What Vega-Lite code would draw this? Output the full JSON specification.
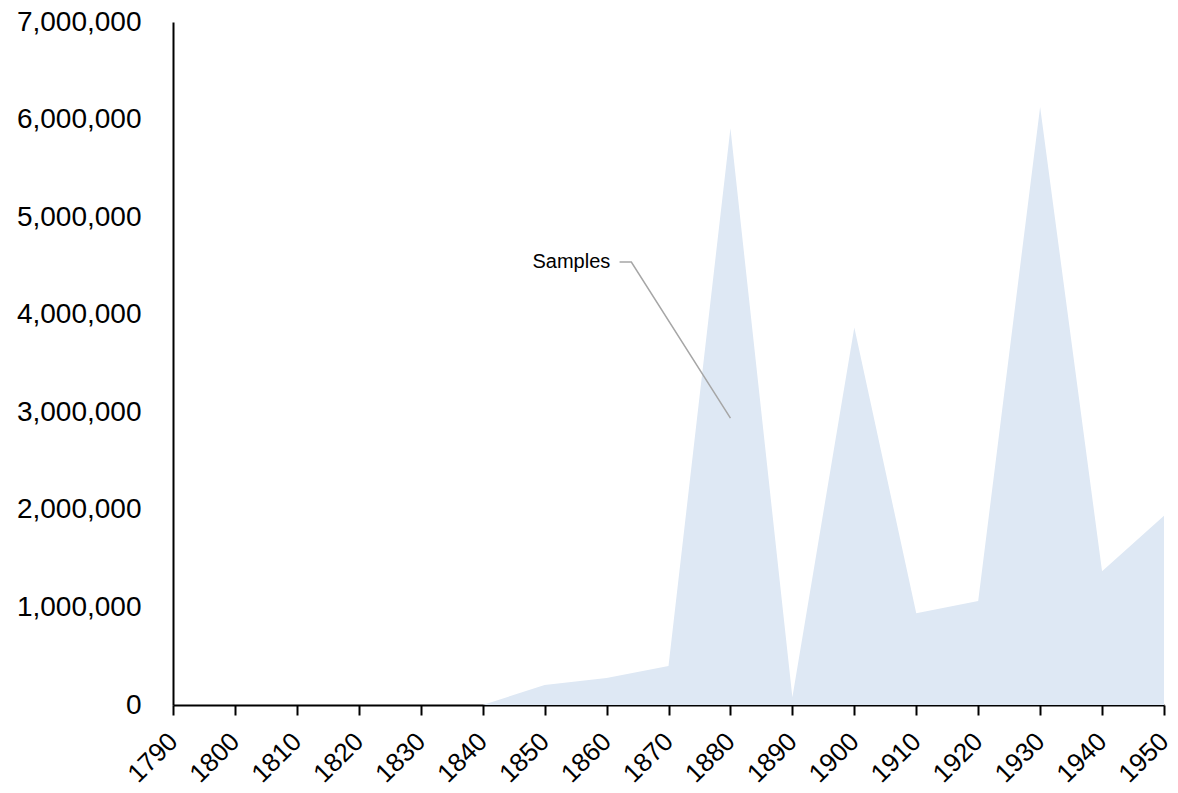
{
  "$schema": "https://vega.github.io/schema/vega-lite/v6.json",
  "autosize": "none",
  "width": 991,
  "height": 683,
  "padding": {"left": 173, "top": 22, "right": 14, "bottom": 88},
  "background": "white",
  "config": {"view": {"stroke": null}, "font": "Liberation Sans"},
  "datasets": {
    "series": [
      {"year": 1790, "value": 0},
      {"year": 1800, "value": 0},
      {"year": 1810, "value": 0},
      {"year": 1820, "value": 0},
      {"year": 1830, "value": 0},
      {"year": 1840, "value": 0},
      {"year": 1850, "value": 205000},
      {"year": 1860, "value": 277000},
      {"year": 1870, "value": 400000},
      {"year": 1880, "value": 5910000},
      {"year": 1890, "value": 80000},
      {"year": 1900, "value": 3870000},
      {"year": 1910, "value": 940000},
      {"year": 1920, "value": 1065000},
      {"year": 1930, "value": 6130000},
      {"year": 1940, "value": 1370000},
      {"year": 1950, "value": 1940000}
    ],
    "leader": [
      {"year": 1862.1, "value": 4540000, "order": 1},
      {"year": 1864.0, "value": 4540000, "order": 2},
      {"year": 1880.0, "value": 2940000, "order": 3}
    ],
    "label": [
      {"year": 1860.6, "value": 4540000, "text": "Samples"}
    ]
  },
  "layer": [
    {
      "data": {"name": "series"},
      "mark": {"type": "area", "color": "#DEE8F4", "interpolate": "linear"},
      "encoding": {
        "x": {
          "field": "year", "type": "quantitative",
          "scale": {"domain": [1790, 1950], "nice": false, "zero": false},
          "axis": {
            "title": null,
            "values": [1790, 1800, 1810, 1820, 1830, 1840, 1850, 1860, 1870, 1880, 1890, 1900, 1910, 1920, 1930, 1940, 1950],
            "format": "d",
            "grid": false,
            "domainColor": "#000000",
            "domainWidth": 2,
            "tickColor": "#000000",
            "tickWidth": 2,
            "tickSize": 10,
            "labelAngle": -45,
            "labelAlign": "right",
            "labelBaseline": "middle",
            "labelFontSize": 26,
            "labelColor": "#000000",
            "labelPadding": 22,
            "labelOverlap": false,
            "labelFlush": false
          }
        },
        "y": {
          "field": "value", "type": "quantitative",
          "scale": {"domain": [0, 7000000], "nice": false},
          "axis": {
            "title": null,
            "values": [0, 1000000, 2000000, 3000000, 4000000, 5000000, 6000000, 7000000],
            "format": ",d",
            "grid": false,
            "ticks": false,
            "domainColor": "#000000",
            "domainWidth": 2,
            "labelFontSize": 28,
            "labelColor": "#000000",
            "labelPadding": 32,
            "labelOverlap": false,
            "labelFlush": false
          }
        }
      }
    },
    {
      "data": {"name": "leader"},
      "mark": {"type": "line", "color": "#A6A6A6", "strokeWidth": 1.5},
      "encoding": {
        "x": {"field": "year", "type": "quantitative"},
        "y": {"field": "value", "type": "quantitative"},
        "order": {"field": "order"}
      }
    },
    {
      "data": {"name": "label"},
      "mark": {"type": "text", "align": "right", "baseline": "middle", "fontSize": 20, "color": "#000000"},
      "encoding": {
        "x": {"field": "year", "type": "quantitative"},
        "y": {"field": "value", "type": "quantitative"},
        "text": {"field": "text"}
      }
    }
  ]
}
